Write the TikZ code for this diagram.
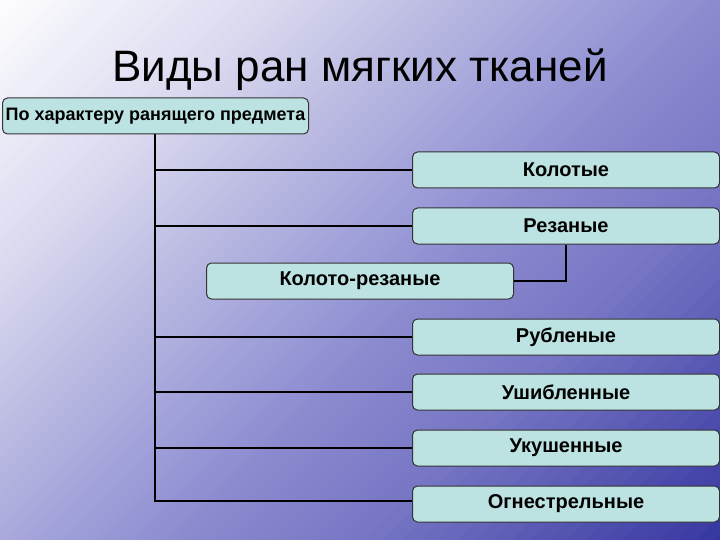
\documentclass[tikz,border=0pt]{standalone}
\usepackage{fontspec}
\setmainfont{Liberation Sans}
\definecolor{boxfill}{HTML}{BCE3E2}
\definecolor{gA}{HTML}{FFFFFF}
\definecolor{gB}{HTML}{DADAF0}
\definecolor{gC}{HTML}{BEBEE4}
\definecolor{gD}{HTML}{A0A0DA}
\definecolor{gE}{HTML}{8A88CE}
\definecolor{gF}{HTML}{7676C4}
\definecolor{gG}{HTML}{3434A0}
\newcommand\bgseg[4]{%
  \pgfmathsetmacro\bgstep{(#2-#1)/20}%
  \foreach \bgk in {0,...,19}{%
    \pgfmathsetmacro\bgta{#1+\bgk*\bgstep}%
    \pgfmathsetmacro\bgtb{\bgta+\bgstep+0.8}%
    \pgfmathtruncatemacro\bgpc{100*(\bgk+0.5)/20}%
    \fill[#4!\bgpc!#3] ({0.7071*\bgta+707},{0.7071*\bgta-707}) -- ({0.7071*\bgtb+707},{0.7071*\bgtb-707})
      -- ({0.7071*\bgtb-707},{0.7071*\bgtb+707}) -- ({0.7071*\bgta-707},{0.7071*\bgta+707}) -- cycle;
  }}
\begin{document}
\begin{tikzpicture}[x=1pt,y=-1pt,
  box/.style={draw=black!80, line width=1pt, fill=boxfill, rounded corners=5pt,
    minimum height=36pt, minimum width=307pt, inner sep=0pt, anchor=west,
    font=\fontsize{20}{22}\selectfont\bfseries},
  conn/.style={line width=2.2pt, black}]
\useasboundingbox (0,0) rectangle (720,540);
\begin{scope}
  \clip (0,0) rectangle (720,540);
  \bgseg{-10}{190}{gA}{gB}
  \bgseg{190}{300}{gB}{gC}
  \bgseg{300}{420}{gC}{gD}
  \bgseg{420}{520}{gD}{gE}
  \bgseg{520}{640}{gE}{gF}
  \bgseg{640}{900}{gF}{gG}
\end{scope}
\node[font=\fontsize{44}{50}\selectfont, anchor=base] (title) at (360,82) {Виды ран мягких тканей};
\node[box, minimum width=306pt, font=\fontsize{18}{20}\selectfont\bfseries] (root) at (2,116) {По характеру ранящего предмета};
\node[box] (k1) at (412,170) {Колотые};
\node[box] (k2) at (412,226) {Резаные};
\node[box] (k3) at (206,281) {Колото-резаные};
\node[box] (k4) at (412,337) {Рубленые};
\node[box] (k5) at (412,392) {Ушибленные};
\node[box] (k6) at (412,448) {Укушенные};
\node[box] (k7) at (412,504) {Огнестрельные};
\coordinate (tb) at (155,501);
\draw[conn] (root.south -| tb) -- (tb) -- (tb -| k7.west);
\foreach \n in {k1,k2,k4,k5,k6}{\draw[conn] (\n.west -| tb) -- (\n.west);}
\draw[conn] (k2.south -| 566,0) |- (k3.east);
\end{tikzpicture}
\end{document}
